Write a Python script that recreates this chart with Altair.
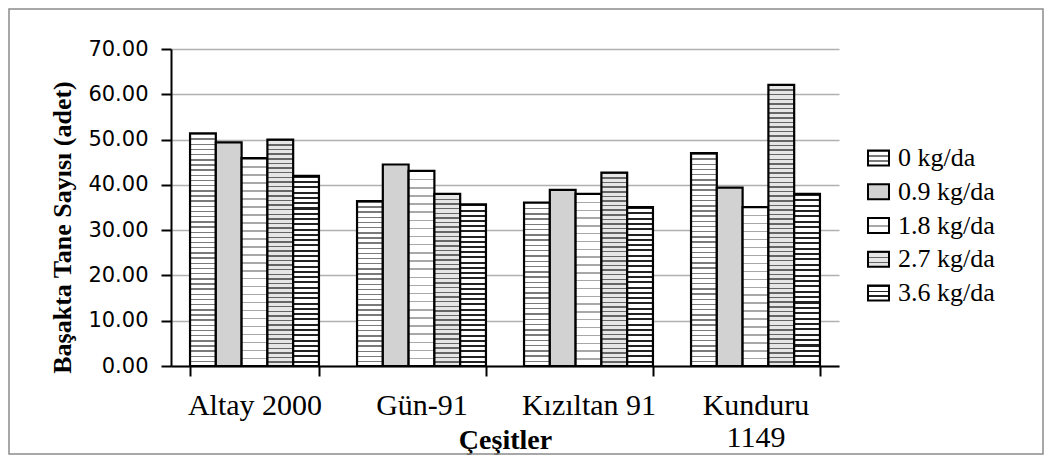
import altair as alt
import pandas as pd

# ---- data ----
categories = ["Altay 2000", "Gün-91", "Kızıltan 91", "Kunduru 1149"]
series = ["0 kg/da", "0.9 kg/da", "1.8 kg/da", "2.7 kg/da", "3.6 kg/da"]
v_00 = [51.4, 36.4, 36.1, 47.0]
v_09 = [49.4, 44.5, 38.9, 39.4]
v_18 = [45.9, 43.1, 38.0, 35.1]
v_27 = [50.0, 38.0, 42.7, 62.1]
v_36 = [42.0, 35.7, 35.1, 38.0]
y_ticks = [0, 10, 20, 30, 40, 50, 60, 70]

values_by_series = [v_00, v_09, v_18, v_27, v_36]
rows = []
for s, vals in zip(series, values_by_series):
    for c, v in zip(categories, vals):
        rows.append({"cat": c, "series": s, "value": v})
df = pd.DataFrame(rows)
legend_df = pd.DataFrame({"series": series})
frame_df = pd.DataFrame({"f": [0]})

# ---- styling ----
W, H = 668, 317
Y_MAX = 70
# pattern imitation: (period px, line colour, background, duty)
patterns = {
    "0 kg/da": (5.2, "#7a7a7a", "#ffffff", 0.28),
    "0.9 kg/da": (6.0, "#d2d2d2", "#d2d2d2", 0.5),
    "1.8 kg/da": (8.0, "#a8a8a8", "#ffffff", 0.18),
    "2.7 kg/da": (4.6, "#666666", "#e6e6e6", 0.32),
    "3.6 kg/da": (5.3, "#222222", "#ffffff", 0.38),
}


def stripe_gradient(n, line, bg, duty):
    n = max(1, int(n))
    stops = []
    for i in range(n):
        a = i / n
        b = (i + duty) / n
        c = (i + 1) / n
        stops += [
            alt.GradientStop(offset=a, color=line),
            alt.GradientStop(offset=b, color=line),
            alt.GradientStop(offset=b, color=bg),
            alt.GradientStop(offset=c, color=bg),
        ]
    return alt.Gradient(gradient="linear", stops=stops, x1=0, x2=0, y1=0, y2=1)


x_axis = alt.Axis(
    labelExpr="datum.label == 'Kunduru 1149' ? ['Kunduru', '1149'] : datum.label",
    labelFont="Liberation Serif", labelFontSize=30, labelColor="black",
    labelAngle=0, labelBaseline="alphabetic", labelPadding=38, labelLineHeight=32,
    tickBand="extent", tickSize=10, tickColor="black", tickWidth=2,
    domainColor="black", domainWidth=2, grid=False,
    title="Çeşitler", titleFont="Liberation Serif", titleFontSize=28,
    titleFontWeight="bold", titleColor="black", titleY=82, titleBaseline="alphabetic",
)
y_axis = alt.Axis(
    values=y_ticks, format=".2f",
    labelFont="DejaVu Sans", labelFontSize=21, labelColor="black", labelPadding=13,
    tickSize=10, tickColor="black", tickWidth=2,
    domainColor="black", domainWidth=2,
    gridColor="#b0b0b0", gridWidth=1.5,
    title="Başakta Tane Sayısı (adet)", titleFont="Liberation Serif", titleFontSize=26,
    titleFontWeight="bold", titleColor="black", titleX=-101, titleY=178,
    titleBaseline="alphabetic", titleAngle=270,
)

x_enc = alt.X("cat:N", sort=categories,
              scale=alt.Scale(domain=categories, paddingInner=0.228, paddingOuter=0.114),
              axis=x_axis)
xo_enc = alt.XOffset("series:N", sort=series,
                     scale=alt.Scale(domain=series, paddingInner=0, paddingOuter=0))
y_enc = alt.Y("value:Q", scale=alt.Scale(domain=[0, Y_MAX]), axis=y_axis)

bar_layers = []
for s, vals in zip(series, values_by_series):
    period, line, bg, duty = patterns[s]
    for c, v in zip(categories, vals):
        n = round(v / Y_MAX * H / period)
        grad = stripe_gradient(n, line, bg, duty)
        bar_layers.append(
            alt.Chart(df)
            .transform_filter((alt.datum.series == s) & (alt.datum.cat == c))
            .mark_bar(fill=grad, stroke="black", strokeWidth=2.2)
            .encode(x=x_enc, xOffset=xo_enc, y=y_enc)
        )
bars = alt.layer(*bar_layers)

leg_y = alt.Y("series:N", sort=series,
              scale=alt.Scale(type="point", domain=series, range=[109, 244], padding=0),
              axis=None)
legend_layers = []
for s in series:
    period, line, bg, duty = patterns[s]
    grad = stripe_gradient(round(15 / period), line, bg, duty)
    legend_layers.append(
        alt.Chart(legend_df)
        .transform_filter(alt.datum.series == s)
        .mark_rect(fill=grad, stroke="black", strokeWidth=2, height=15)
        .encode(x=alt.value(697), x2=alt.value(718), y=leg_y)
    )
legend_text = (
    alt.Chart(legend_df)
    .mark_text(align="left", baseline="middle", font="Liberation Serif",
               fontSize=26, color="black")
    .encode(x=alt.value(727), y=leg_y, text="series:N")
)
legend = alt.layer(*legend_layers, legend_text)

frame = (
    alt.Chart(frame_df)
    .mark_rect(filled=False, stroke="#8c8c8c", strokeWidth=1.5)
    .encode(x=alt.value(-162), x2=alt.value(872), y=alt.value(-40), y2=alt.value(405))
)

chart = (
    alt.layer(frame, bars, legend)
    .resolve_scale(y="independent")
    .properties(
        width=W, height=H,
        autosize=alt.AutoSizeParams(type="none"),
        padding={"left": 163, "top": 41, "right": 205, "bottom": 89},
        background="white",
    )
    .configure_view(stroke=None)
)

chart.save("out.html", embed_options={"renderer": "svg", "actions": False})
